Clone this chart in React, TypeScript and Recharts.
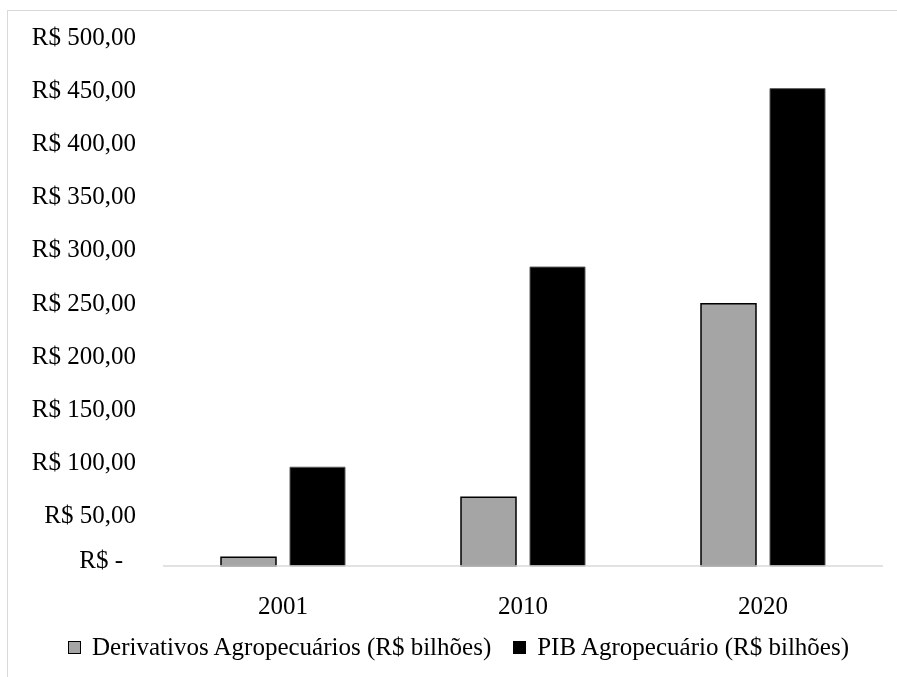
import { Bar, BarChart, Legend, XAxis, YAxis } from 'recharts'

const YEARS = ['2001', '2010', '2020']
const DERIVATIVOS = [8.2, 64.7, 247]
const PIB = [93, 281.5, 449.5]
const Y_TICKS = [0, 50, 100, 150, 200, 250, 300, 350, 400, 450, 500]
const Y_LABELS = ['R$ -', 'R$ 50,00', 'R$ 100,00', 'R$ 150,00', 'R$ 200,00', 'R$ 250,00', 'R$ 300,00', 'R$ 350,00', 'R$ 400,00', 'R$ 450,00', 'R$ 500,00']

const SERIES = [
  { key: 'derivativos', name: 'Derivativos Agropecuários (R$ bilhões)', fill: '#a5a5a5', stroke: '#000000', strokeWidth: 1.5 },
  { key: 'pib', name: 'PIB Agropecuário (R$ bilhões)', fill: '#000000', stroke: '#595959', strokeWidth: 1 },
]

const data = YEARS.map((year, i) => ({ year, derivativos: DERIVATIVOS[i], pib: PIB[i] }))

const FONT = '"Liberation Serif", "Times New Roman", serif'

function YTick({ x, y, payload }: any) {
  const idx = Y_TICKS.indexOf(payload.value)
  const zero = payload.value === 0
  return (
    <text
      x={x - (zero ? 40 : 27)}
      y={y + (zero ? 1.5 : 10)}
      textAnchor="end"
      fontFamily={FONT}
      fontSize={25}
      fill="#000"
    >
      {Y_LABELS[idx]}
    </text>
  )
}

function XTick({ x, y, payload }: any) {
  return (
    <text x={x} y={y + 48} textAnchor="middle" fontFamily={FONT} fontSize={25} fill="#000">
      {payload.value}
    </text>
  )
}

function ChartLegend() {
  return (
    <div style={{ display: 'flex', alignItems: 'center', height: 30, paddingLeft: 60, fontFamily: FONT, fontSize: 25, color: '#000' }}>
      {SERIES.map((s, i) => (
        <div key={s.key} style={{ display: 'flex', alignItems: 'center', marginLeft: i === 0 ? 0 : 22 }}>
          <span
            style={{
              display: 'inline-block',
              width: 11,
              height: 11,
              background: s.fill,
              border: '1px solid #000',
              marginRight: 11,
            }}
          />
          <span style={{ whiteSpace: 'nowrap' }}>{s.name}</span>
        </div>
      ))}
    </div>
  )
}

export default function App() {
  return (
    <div>
      <div
        style={{
          position: 'fixed',
          left: 7,
          top: 10,
          width: 1000,
          height: 1000,
          borderTop: '1px solid #d9d9d9',
          borderLeft: '1px solid #d9d9d9',
          pointerEvents: 'none',
        }}
      />
      <BarChart
        width={881}
        height={661}
        data={data}
        margin={{ top: 27, right: 6, bottom: 7, left: 0 }}
        barSize={55}
        barGap={14}
      >
        <XAxis
          dataKey="year"
          height={66}
          tickSize={0}
          tickMargin={0}
          tickLine={false}
          axisLine={{ stroke: '#d9d9d9', strokeWidth: 1.5 }}
          tick={<XTick />}
          interval={0}
        />
        <YAxis
          width={155}
          domain={[0, 500]}
          ticks={Y_TICKS}
          tickSize={0}
          tickMargin={0}
          axisLine={false}
          tickLine={false}
          tick={<YTick />}
          interval={0}
        />
        <Legend verticalAlign="bottom" content={<ChartLegend />} />
        {SERIES.map((s) => (
          <Bar
            key={s.key}
            dataKey={s.key}
            name={s.name}
            fill={s.fill}
            stroke={s.stroke}
            strokeWidth={s.strokeWidth}
            isAnimationActive={false}
          />
        ))}
      </BarChart>
    </div>
  )
}
